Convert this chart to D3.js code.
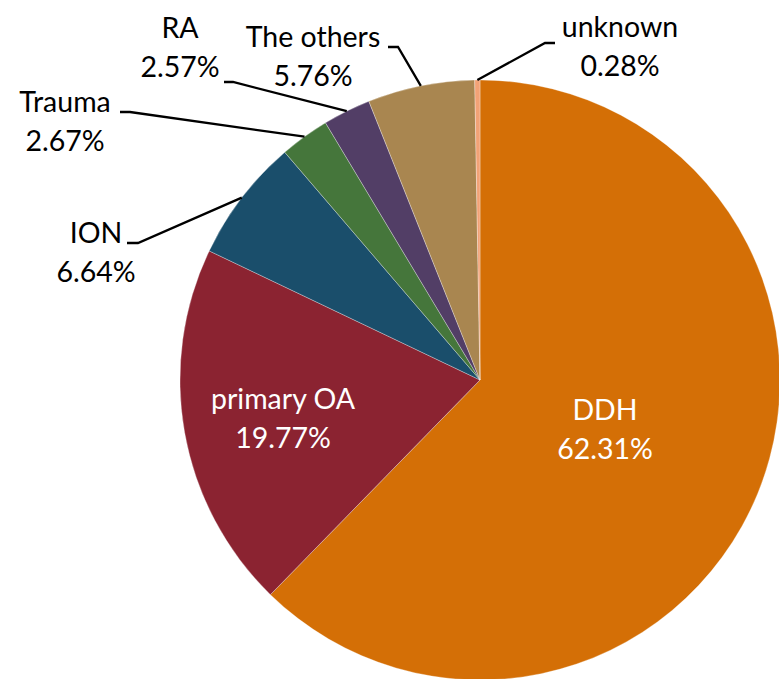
<!DOCTYPE html>
<html>
<head>
<meta charset="utf-8">
<script src="https://cdn.jsdelivr.net/npm/d3@7"></script>
<style>
  html, body { margin: 0; padding: 0; background: #fff; }
  svg { display: block; }
  text { font-family: Lato, "Open Sans", sans-serif; font-weight: 400; }
</style>
</head>
<body>
<svg id="chart" width="779" height="679"></svg>
<script>
// ---- data ----
const categories = ["DDH", "primary OA", "ION", "Trauma", "RA", "The others", "unknown"];
const values = [62.31, 19.77, 6.64, 2.67, 2.57, 5.76, 0.28];
const valueLabels = ["62.31%", "19.77%", "6.64%", "2.67%", "2.57%", "5.76%", "0.28%"];
const colors = ["#D46F06", "#8B2331", "#1A4E6B", "#45763B", "#523E66", "#A98650", "#F2A276"];

// ---- layout (not data) ----
const W = 779, H = 679;
const cx = 480, cy = 380, R = 300;
const fontSize = 28.5, lineGap = 39;
// label block: center x, first baseline y, text colour, leader elbow & end (null = inside)
const labelLayout = [
  { x: 605, y: 420, fill: "#fff", leader: null },
  { x: 283, y: 409, fill: "#fff", leader: null },
  { x: 96,  y: 243, fill: "#000", leader: [[138, 243], [127, 243]] },
  { x: 65,  y: 112, fill: "#000", leader: [[130, 112], [120, 112]] },
  { x: 180, y: 38,  fill: "#000", leader: [[233, 82], [224, 82]] },
  { x: 313, y: 47,  fill: "#000", leader: [[398, 47], [388, 47]] },
  { x: 620, y: 37,  fill: "#000", leader: [[545, 43], [555, 43]] }
];

const data = categories.map((c, i) => ({ name: c, value: values[i], label: valueLabels[i], color: colors[i], layout: labelLayout[i] }));

const svg = d3.select("#chart");
const g = svg.append("g").attr("transform", `translate(${cx},${cy})`);

const pie = d3.pie().sort(null).value(d => d.value);
const arc = d3.arc().innerRadius(0).outerRadius(R);
const arcs = pie(data);

g.selectAll("path.slice")
  .data(arcs)
  .enter().append("path")
  .attr("class", "slice")
  .attr("d", arc)
  .attr("fill", d => d.data.color)
  .attr("stroke", "rgba(255,255,255,0.5)")
  .attr("stroke-width", 0.6);

// leader lines
arcs.forEach(a => {
  const L = a.data.layout;
  if (!L.leader) return;
  const mid = (a.startAngle + a.endAngle) / 2;
  const p0 = [cx + R * Math.sin(mid), cy - R * Math.cos(mid)];
  const pts = [p0].concat(L.leader);
  svg.append("path")
    .attr("d", d3.line()(pts))
    .attr("fill", "none")
    .attr("stroke", "#000")
    .attr("stroke-width", 2.3);
});

// labels
arcs.forEach(a => {
  const L = a.data.layout;
  const t = svg.append("text")
    .attr("text-anchor", "middle")
    .attr("font-size", fontSize)
    .attr("fill", L.fill);
  t.append("tspan").attr("x", L.x).attr("y", L.y).text(a.data.name);
  t.append("tspan").attr("x", L.x).attr("y", L.y + lineGap).text(a.data.label);
});
</script>
</body>
</html>
